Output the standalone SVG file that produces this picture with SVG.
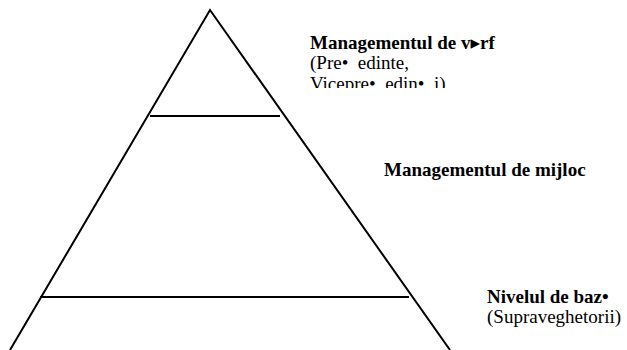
<svg xmlns="http://www.w3.org/2000/svg" width="627" height="350" viewBox="0 0 627 350">
<style>
.ln{stroke:#000;stroke-width:2;fill:none}
.t{font-family:'Liberation Serif','Times New Roman','DejaVu Serif',serif;font-size:19px;fill:#000;white-space:pre}
.b{font-weight:bold}
</style>
<defs>
<clipPath id="clip1"><rect x="300" y="0" width="200" height="88"/></clipPath>
</defs>
<rect width="627" height="350" fill="#fff"/>
<g id="pyramid">
<polyline class="ln" points="10,350 210,10 450,350"/>
<line class="ln" x1="150" y1="116" x2="280" y2="116"/>
<line class="ln" x1="40" y1="297" x2="409" y2="297"/>
</g>
<g id="top-label">
<text class="t b" x="310" y="49">Managementul de v▸rf</text>
<text class="t" x="310" y="69" xml:space="preserve">(Pre•  edinte,</text>
<text class="t" x="310" y="90" clip-path="url(#clip1)" xml:space="preserve">Vicepre•  edin•  i)</text>
</g>
<g id="middle-label">
<text class="t b" x="384" y="176">Managementul de mijloc</text>
</g>
<g id="base-label">
<text class="t b" x="487" y="303">Nivelul de baz•</text>
<text class="t" x="487" y="323">(Supraveghetorii)</text>
</g>
</svg>
